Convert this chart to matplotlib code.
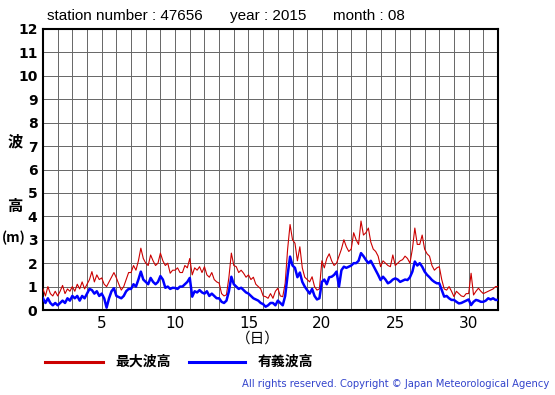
import numpy as np
import matplotlib
matplotlib.use('Agg')
import matplotlib.pyplot as plt

# 2015年8月 波高 (6 values per day, every 4 hours)
max_wave = [
    0.9, 0.6, 1.0, 0.7, 0.6, 0.8,     # 1
    0.6, 0.8, 1.05, 0.7, 0.9, 0.8,    # 2
    1.0, 0.8, 1.1, 0.9, 1.2, 0.9,     # 3
    1.1, 1.3, 1.64, 1.2, 1.5, 1.3,    # 4
    1.37, 1.1, 1.0, 1.2, 1.4, 1.6,    # 5
    1.37, 1.1, 0.85, 1.0, 1.3, 1.6,   # 6
    1.6, 1.9, 1.7, 2.1, 2.64, 2.2,    # 7
    2.0, 1.9, 2.35, 2.1, 1.9, 2.0,    # 8
    2.43, 2.1, 1.9, 2.0, 1.57, 1.7,   # 9
    1.7, 1.8, 1.6, 1.6, 1.9, 1.8,     # 10
    2.2, 1.5, 1.8, 1.7, 1.85, 1.6,    # 11
    1.85, 1.5, 1.4, 1.6, 1.3, 1.2,    # 12
    1.15, 0.7, 0.6, 0.65, 1.4, 2.43,  # 13
    1.9, 1.85, 1.6, 1.7, 1.57, 1.4,   # 14
    1.5, 1.3, 1.4, 1.1, 1.0, 0.9,     # 15
    0.6, 0.57, 0.5, 0.7, 0.5, 0.8,    # 16
    0.93, 0.6, 0.57, 1.14, 2.6, 3.65, # 17
    3.0, 2.85, 2.1, 2.7, 1.8, 1.4,    # 18
    1.3, 1.2, 1.42, 1.0, 0.85, 0.9,   # 19
    2.1, 1.8, 2.2, 2.4, 2.1, 1.9,     # 20
    2.0, 2.3, 2.6, 3.0, 2.7, 2.5,     # 21
    2.6, 3.3, 3.0, 2.8, 3.8, 3.2,     # 22
    3.3, 3.5, 2.9, 2.6, 2.5, 2.3,     # 23
    1.85, 2.1, 2.0, 1.9, 1.85, 2.35,  # 24
    1.9, 2.0, 2.1, 2.15, 2.3, 2.2,    # 25
    2.0, 2.6, 3.5, 2.8, 2.8, 3.2,     # 26
    2.6, 2.4, 2.3, 1.9, 1.7, 1.8,     # 27
    1.85, 1.3, 0.9, 0.85, 1.0, 0.8,   # 28
    0.57, 0.8, 0.7, 0.6, 0.57, 0.7,   # 29
    0.7, 1.57, 0.64, 0.8, 0.93, 0.8,  # 30
    0.7, 0.75, 0.8, 0.85, 0.9, 1.0,   # 31
    1.0,
]
sig_wave = [
    0.5, 0.3, 0.5, 0.3, 0.2, 0.3,     # 1
    0.2, 0.3, 0.4, 0.3, 0.5, 0.4,     # 2
    0.6, 0.5, 0.6, 0.4, 0.6, 0.5,     # 3
    0.7, 0.9, 0.85, 0.7, 0.8, 0.6,    # 4
    0.7, 0.5, 0.1, 0.5, 0.8, 0.93,    # 5
    0.6, 0.55, 0.5, 0.6, 0.8, 0.9,    # 6
    0.9, 1.1, 1.0, 1.3, 1.64, 1.3,    # 7
    1.2, 1.1, 1.37, 1.2, 1.1, 1.2,    # 8
    1.45, 1.3, 0.95, 1.0, 0.9, 0.95,  # 9
    0.94, 0.9, 1.0, 1.0, 1.1, 1.2,    # 10
    1.37, 0.57, 0.8, 0.75, 0.85, 0.75,# 11
    0.7, 0.8, 0.6, 0.7, 0.6, 0.5,     # 12
    0.5, 0.35, 0.3, 0.4, 0.8, 1.42,   # 13
    1.1, 1.0, 0.9, 0.95, 0.85, 0.75,  # 14
    0.7, 0.6, 0.5, 0.45, 0.4, 0.3,    # 15
    0.25, 0.14, 0.2, 0.3, 0.3, 0.2,   # 16
    0.4, 0.3, 0.2, 0.6, 1.5, 2.28,    # 17
    1.9, 1.8, 1.4, 1.6, 1.2, 1.0,     # 18
    0.85, 0.7, 0.9, 0.6, 0.45, 0.5,   # 19
    1.2, 1.3, 1.1, 1.4, 1.42, 1.5,    # 20
    1.64, 1.0, 1.7, 1.85, 1.8, 1.85,  # 21
    1.9, 2.0, 2.0, 2.1, 2.43, 2.3,    # 22
    2.14, 2.0, 2.1, 1.9, 1.71, 1.5,   # 23
    1.28, 1.42, 1.3, 1.14, 1.2, 1.3,  # 24
    1.35, 1.3, 1.2, 1.25, 1.3, 1.28,  # 25
    1.4, 1.64, 2.07, 1.9, 2.0, 1.85,  # 26
    1.64, 1.5, 1.4, 1.28, 1.2, 1.14,  # 27
    1.14, 0.85, 0.57, 0.6, 0.5, 0.43, # 28
    0.43, 0.35, 0.28, 0.3, 0.35, 0.4, # 29
    0.45, 0.21, 0.35, 0.43, 0.4, 0.35,# 30
    0.35, 0.4, 0.5, 0.45, 0.5, 0.43,  # 31
    0.43,
]
x_ticks = [5, 10, 15, 20, 25, 30]
y_ticks = list(range(0, 13))

W, H = 555, 395
CJK = ['Noto Sans CJK JP', 'DejaVu Sans']

def fx(px):
    return px / W

def fy(py):
    return 1 - py / H

t = 1 + np.arange(len(max_wave)) / 6.0

fig = plt.figure(figsize=(W / 100, H / 100), dpi=100)
ax = fig.add_axes([fx(43), fy(310), fx(498) - fx(43), fy(29) - fy(310)])

ax.plot(t, max_wave, color='#cc0000', lw=0.8, zorder=3)
ax.plot(t, sig_wave, color='#0000ff', lw=1.8, zorder=4)

ax.set_xlim(1, 32)
ax.set_ylim(0, 12)
ax.set_xticks(range(1, 33), minor=True)
ax.set_xticks(x_ticks)
ax.set_yticks(y_ticks)
ax.grid(True, which='both', color='#666666', lw=0.7)
ax.tick_params(which='both', length=0)
ax.tick_params(axis='x', labelsize=11, pad=4)
ax.tick_params(axis='y', pad=4)
for lab in ax.get_yticklabels():
    lab.set_fontweight('bold')
    lab.set_fontsize(10)
for sp in ax.spines.values():
    sp.set_linewidth(1.5)
    sp.set_color('black')

# header
fig.text(fx(47), fy(16), 'station number : 47656', fontsize=11, family='Liberation Sans', va='center')
fig.text(fx(230), fy(16), 'year : 2015', fontsize=11, family='Liberation Sans', va='center')
fig.text(fx(333), fy(16), 'month : 08', fontsize=11, family='Liberation Sans', va='center')

# y label
fig.text(fx(15), fy(141), '波', fontsize=11, family=CJK, weight='bold', ha='center', va='center')
fig.text(fx(15), fy(206), '高', fontsize=11, family=CJK, weight='bold', ha='center', va='center')
fig.text(fx(14), fy(238), '(m)', fontsize=10, family=CJK, weight='bold', ha='center', va='center')

# x label
fig.text(fx(258), fy(339), '（日）', fontsize=10.5, family=CJK, ha='center', va='center')

# legend
fig.add_artist(plt.Line2D([fx(45), fx(103)], [fy(362), fy(362)], color='#cc0000', lw=2.2))
fig.text(fx(115), fy(362), '最大波高', fontsize=10, family=CJK, weight='bold', va='center')
fig.add_artist(plt.Line2D([fx(189), fx(245)], [fy(362), fy(362)], color='#0000ff', lw=2.2))
fig.text(fx(258), fy(362), '有義波高', fontsize=10, family=CJK, weight='bold', va='center')

fig.text(fx(549), fy(384), 'All rights reserved. Copyright © Japan Meteorological Agency',
         fontsize=7.2, color='#3344cc', ha='right', va='center')

fig.savefig('out.png', dpi=100)
